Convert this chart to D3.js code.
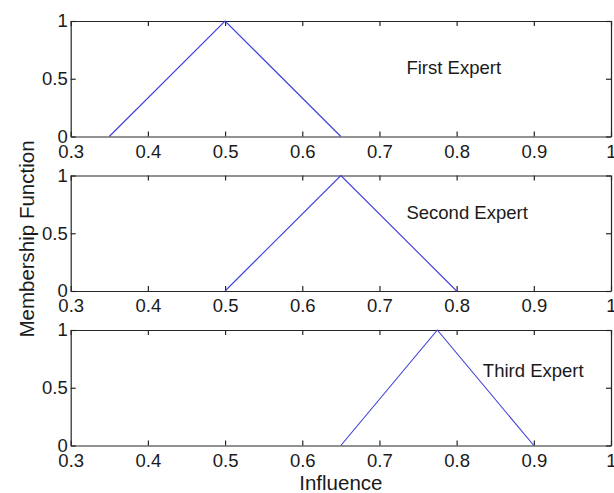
<!DOCTYPE html>
<html>
<head>
<meta charset="utf-8">
<script src="https://cdn.jsdelivr.net/npm/d3@7"></script>
<style>
  html, body { margin: 0; padding: 0; background: #fff; }
  svg { display: block; }
  text { font-family: "Liberation Sans", Arial, Helvetica, sans-serif; fill: #1a1a1a; }
</style>
</head>
<body>
<svg id="chart" width="614" height="493"></svg>
<script>
// ---- data ----
const expertNames = ["First Expert", "Second Expert", "Third Expert"];
const firstExpert  = [[0.35, 0], [0.5, 1], [0.65, 0]];
const secondExpert = [[0.5, 0], [0.65, 1], [0.8, 0]];
const thirdExpert  = [[0.65, 0], [0.775, 1], [0.9, 0]];
const labelAnchors = [[0.735, 0.6], [0.735, 0.685], [0.834, 0.655]]; // data coords of annotations
const xTicks = [0.3, 0.4, 0.5, 0.6, 0.7, 0.8, 0.9, 1];
const xTickLabels = ["0.3", "0.4", "0.5", "0.6", "0.7", "0.8", "0.9", "1"];
const yTicks = [0, 0.5, 1];
const yTickLabels = ["0", "0.5", "1"];
const xLabel = "Influence";
const yLabel = "Membership Function";

const series = [firstExpert, secondExpert, thirdExpert];

// ---- layout ----
const svg = d3.select("#chart");
const left = 70.7, right = 611;
const panelTop0 = 21, panelStep = 154.5, panelH = 115.5;
const tickLen = 5;
const axisColor = "#262626";
const lineColor = "#3c3cdc";

const x = d3.scaleLinear().domain([0.3, 1]).range([left, right]);

series.forEach((data, i) => {
  const top = panelTop0 + i * panelStep;
  const bottom = top + panelH;
  const y = d3.scaleLinear().domain([0, 1]).range([bottom, top]);
  const g = svg.append("g");

  const xAxisB = d3.axisBottom(x).tickValues(xTicks)
    .tickFormat((d, k) => xTickLabels[k]).tickSizeInner(-tickLen).tickSizeOuter(0).tickPadding(8);
  const gb = g.append("g").attr("transform", `translate(0,${bottom})`).call(xAxisB);
  const xAxisT = d3.axisTop(x).tickValues(xTicks).tickFormat("")
    .tickSizeInner(-tickLen).tickSizeOuter(0);
  const gt = g.append("g").attr("transform", `translate(0,${top})`).call(xAxisT);
  const yAxisL = d3.axisLeft(y).tickValues(yTicks)
    .tickFormat((d, k) => yTickLabels[k]).tickSizeInner(-tickLen).tickSizeOuter(0).tickPadding(3);
  const gl = g.append("g").attr("transform", `translate(${left},0)`).call(yAxisL);
  const yAxisR = d3.axisRight(y).tickValues(yTicks).tickFormat("")
    .tickSizeInner(-tickLen).tickSizeOuter(0);
  const gr = g.append("g").attr("transform", `translate(${right},0)`).call(yAxisR);

  [gb, gt, gl, gr].forEach(a => {
    a.selectAll("path.domain").attr("stroke", axisColor).attr("stroke-width", 1.2);
    a.selectAll(".tick line").attr("stroke", axisColor).attr("stroke-width", 1.2);
    a.selectAll("text").attr("font-size", 18.5).attr("fill", "#1a1a1a")
      .style("font-family", '"Liberation Sans", Arial, sans-serif');
  });
  gb.selectAll(".tick text").attr("dy", "0.71em");

  const line = d3.line().x(d => x(d[0])).y(d => y(d[1]));
  g.append("path").datum(data).attr("d", line)
    .attr("fill", "none").attr("stroke", lineColor).attr("stroke-width", 1.1);

  g.append("text")
    .attr("x", x(labelAnchors[i][0])).attr("y", y(labelAnchors[i][1]))
    .attr("dy", "0.36em").attr("font-size", 18.5)
    .text(expertNames[i]);
});

svg.append("text")
  .attr("x", (left + right) / 2).attr("y", 490)
  .attr("text-anchor", "middle").attr("font-size", 20.5)
  .text(xLabel);

svg.append("text")
  .attr("transform", `translate(34,239) rotate(-90)`)
  .attr("text-anchor", "middle").attr("font-size", 20.5)
  .text(yLabel);
</script>
</body>
</html>
